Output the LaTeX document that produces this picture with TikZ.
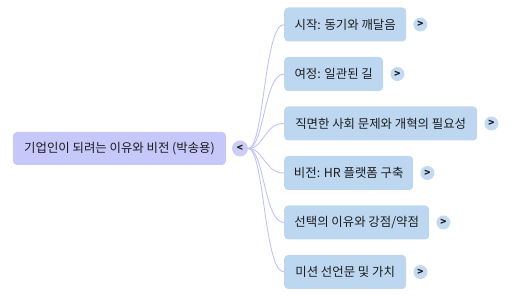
\documentclass[tikz,border=0pt]{standalone}
\usepackage{fontspec}
\setmainfont{Noto Sans CJK KR}
\begin{document}
\begin{tikzpicture}[x=1pt,y=1pt,
  rootbox/.style={draw=none,fill=rootfill,rounded corners=4pt,minimum height=33pt,inner sep=0pt,text=txt,font=\fontsize{12.4}{14}\selectfont},
  childbox/.style={draw=none,fill=childfill,rounded corners=4pt,minimum height=34pt,inner sep=0pt,anchor=west,text=txt,font=\fontsize{12.4}{14}\selectfont},
  rootdot/.style={circle,fill=rootdotfill,minimum size=16pt,inner sep=0pt,text=txt,font=\bfseries\fontsize{10}{11}\selectfont},
  childdot/.style={circle,fill=childdotfill,minimum size=14pt,inner sep=0pt,text=txt,font=\bfseries\fontsize{10}{11}\selectfont},
  edge/.style={draw=edgecol,line width=0.9pt}
]
\definecolor{rootfill}{HTML}{C5C8F8}
\definecolor{rootdotfill}{HTML}{CBCDF6}
\definecolor{childfill}{HTML}{BDD7F1}
\definecolor{childdotfill}{HTML}{C3DAF1}
\definecolor{edgecol}{HTML}{BFC3FA}
\definecolor{txt}{HTML}{1C1C1C}
\useasboundingbox (0,0) rectangle (512,297);
\node[rootbox,minimum width=213pt] (root) at (119.5,148.5) {기업인이 되려는 이유와 비전 (박송용)};
\node[rootdot] (rd) at (240,148.5) {<};
\node[childbox,minimum width=122pt] (c1) at (284,272.5) {시작: 동기와 깨달음};
\node[childbox,minimum width=99pt] (c2) at (284,223) {여정: 일관된 길};
\node[childbox,minimum width=193pt] (c3) at (284,173.5) {직면한 사회 문제와 개혁의 필요성};
\node[childbox,minimum width=129pt] (c4) at (284,124) {비전: HR 플랫폼 구축};
\node[childbox,minimum width=145pt] (c5) at (284,74.5) {선택의 이유와 강점/약점};
\node[childbox,minimum width=122pt] (c6) at (284,25) {미션 선언문 및 가치};
\node[childdot] (d1) at ([xshift=14pt]c1.east) {>};
\node[childdot] (d2) at ([xshift=14pt]c2.east) {>};
\node[childdot] (d3) at ([xshift=14pt]c3.east) {>};
\node[childdot] (d4) at ([xshift=14pt]c4.east) {>};
\node[childdot] (d5) at ([xshift=14pt]c5.east) {>};
\node[childdot] (d6) at ([xshift=14pt]c6.east) {>};
\foreach \c in {c1,c2,c3,c4,c5,c6}
  \draw[edge] (rd.east) .. controls +(16pt,0) and +(-20pt,0) .. (\c.west);
\end{tikzpicture}
\end{document}
